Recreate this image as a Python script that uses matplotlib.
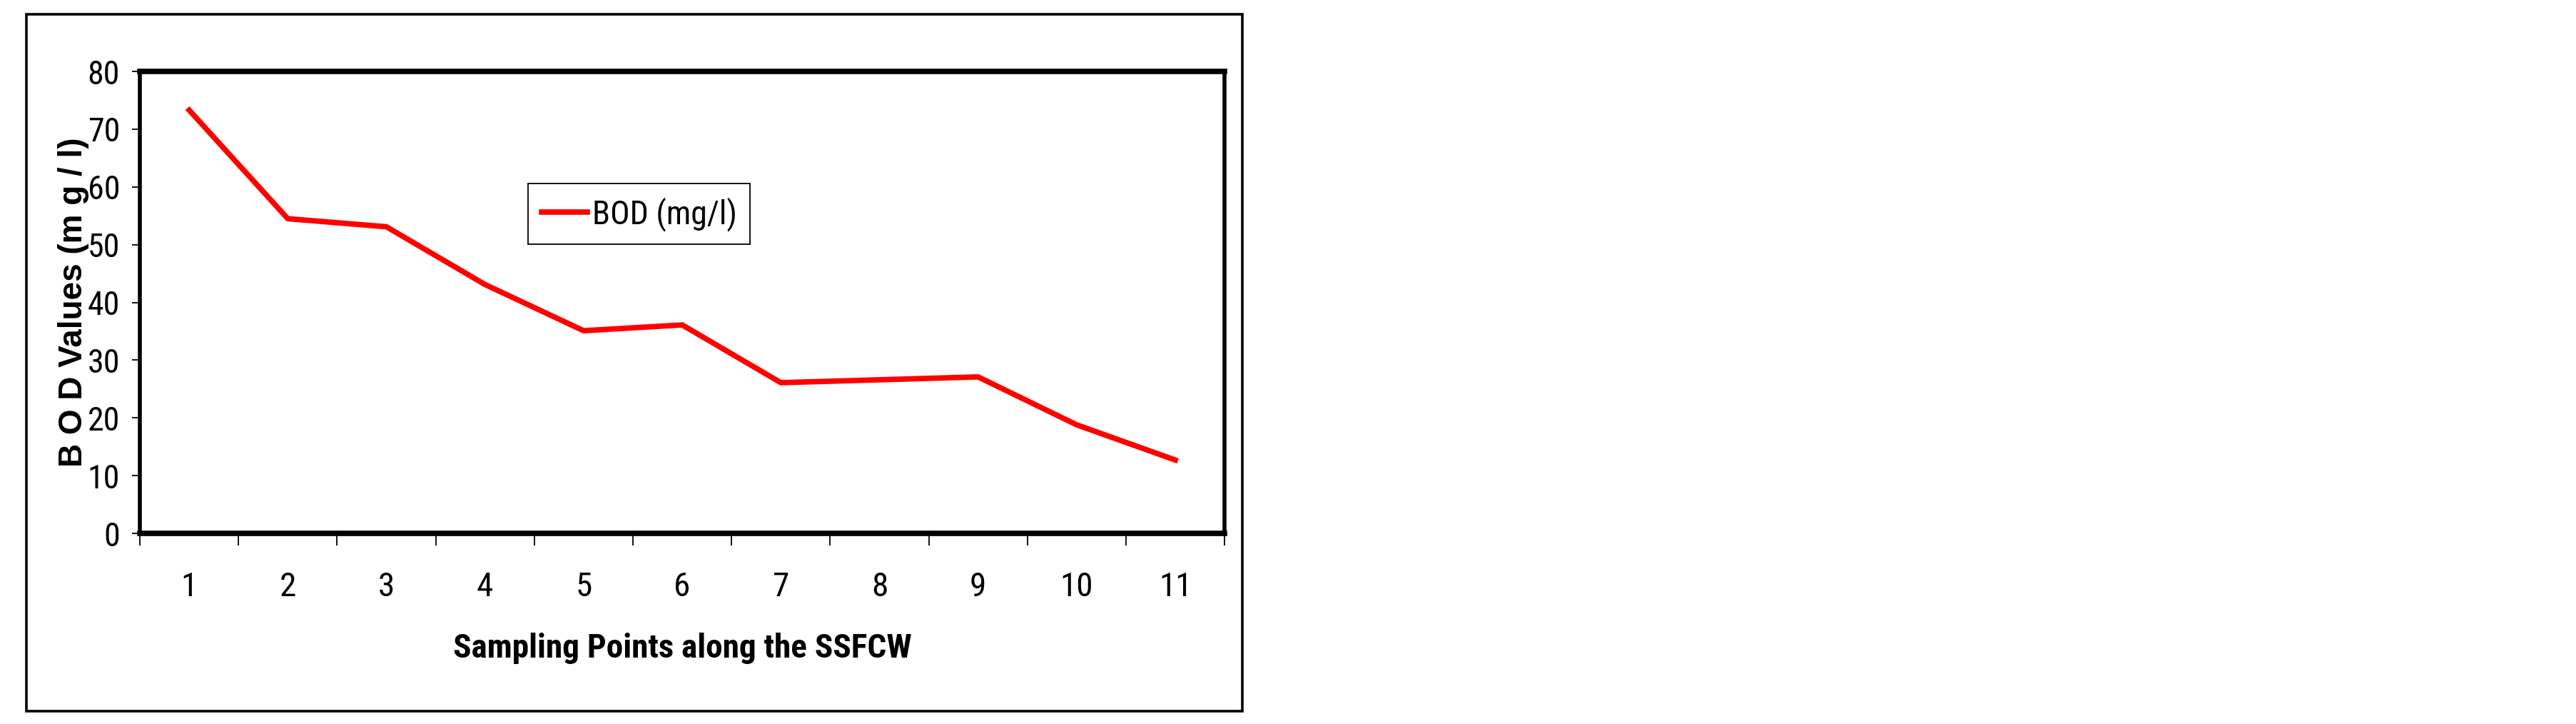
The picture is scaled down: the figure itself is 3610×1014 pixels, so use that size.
import matplotlib
matplotlib.use("Agg")
import matplotlib.pyplot as plt
from matplotlib.patches import Rectangle

# datos del grafico
puntos = [1, 2, 3, 4, 5, 6, 7, 8, 9, 10, 11]
bod = [73.3, 54.5, 53.1, 43.1, 35.1, 36.1, 26.1, 26.6, 27.1, 18.8, 12.7]
y_ticks = [0, 10, 20, 30, 40, 50, 60, 70, 80]

narrow = ["Roboto Condensed", "Liberation Sans", "DejaVu Sans"]
normal = ["Liberation Sans", "DejaVu Sans"]

fig = plt.figure(figsize=(36.1, 10.14), dpi=100)
ax = fig.add_axes([0.0543, 0.2633, 0.4211, 0.638])

ax.plot(puntos, bod, color="#FF0000", linewidth=5.5, label="BOD (mg/l)")

ax.set_xlim(0.5, 11.5)
ax.set_ylim(0, 80)
ax.set_yticks(y_ticks)
ax.set_yticklabels([str(v) for v in y_ticks], family=narrow, fontsize=33)
ax.set_xticks(puntos)
ax.set_xticklabels([str(p) for p in puntos], family=narrow, fontsize=34)
ax.set_xticks([p - 0.5 for p in puntos] + [11.5], minor=True)

ax.tick_params(axis="y", direction="out", length=8, width=1.3, pad=12)
ax.tick_params(axis="x", which="major", length=0, pad=38)
ax.tick_params(axis="x", which="minor", direction="out", length=12, width=1.3)

for lado in ["top", "bottom"]:
    ax.spines[lado].set_linewidth(5.5)
for lado in ["left", "right"]:
    ax.spines[lado].set_linewidth(4)

ax.set_xlabel("Sampling Points along the SSFCW", family=narrow, fontweight="bold", fontsize=34)
ax.xaxis.set_label_coords(0.5, -0.215)
ax.xaxis.label.set_va("top")
ax.set_ylabel("B O D Values (m g / l)", family=normal, fontweight="bold", fontsize=33)
ax.yaxis.set_label_coords(-0.047, 0.5)

leg = ax.legend(loc="upper left", bbox_to_anchor=(0.358, 0.757), borderaxespad=0,
                prop={"family": narrow, "size": 33}, frameon=True, fancybox=False,
                framealpha=1, edgecolor="black", handlelength=1.4, handletextpad=0.15,
                borderpad=0.4)
leg.get_frame().set_linewidth(1.3)

# recuadro exterior
fig.patches.append(Rectangle((0.01025, 0.01775), 0.472, 0.9625, transform=fig.transFigure,
                             fill=False, edgecolor="black", linewidth=2.6))

fig.savefig("out.png", dpi=100)
